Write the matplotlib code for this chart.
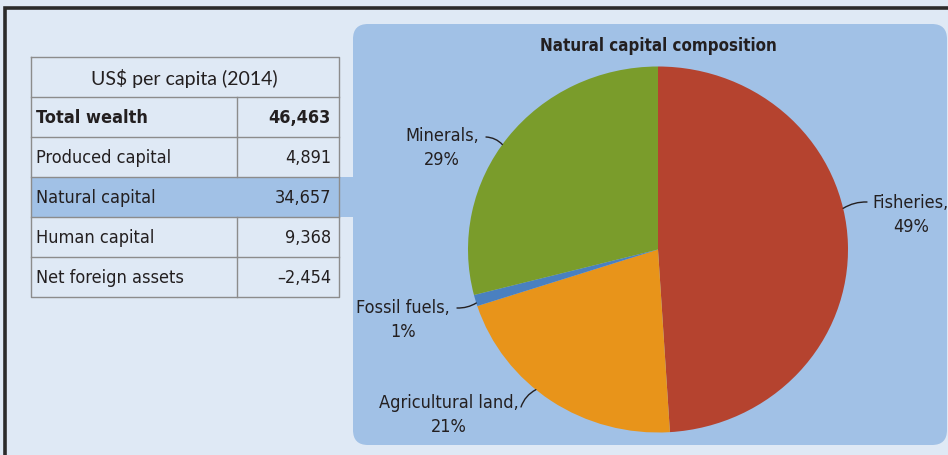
import matplotlib
matplotlib.use('Agg')
import matplotlib.pyplot as plt
from matplotlib import font_manager
from matplotlib.patches import Rectangle, FancyBboxPatch
import numpy as np

# wealth table (US$ per capita, 2014)
row_names = ['Total wealth', 'Produced capital', 'Natural capital', 'Human capital', 'Net foreign assets']
row_values = ['46,463', '4,891', '34,657', '9,368', '\u20132,454']

# natural capital composition (%)
pie_labels = ['Fisheries', 'Agricultural land', 'Fossil fuels', 'Minerals']
pie_shares = [49, 21, 1, 29]
pie_colors = ['#b5432f', '#e8941a', '#4a80c0', '#7a9c2b']

# look for a narrow face, else fall back to Roboto
fonts = font_manager.fontManager.ttflist
narrow_kw = None
for f in fonts:
    if f.name == 'Liberation Sans Narrow':
        narrow_kw = dict(family=['Liberation Sans Narrow', 'DejaVu Sans'])
        break
if narrow_kw is None:
    for f in fonts:
        if f.name == 'DejaVu Sans' and 'condensed' in str(f.stretch):
            narrow_kw = dict(family=['DejaVu Sans'], stretch='condensed')
            break
if narrow_kw is None:
    narrow_kw = dict(family=['Roboto', 'DejaVu Sans'])
fs = 13

txt = '#231f20'
bg = '#dfe9f5'
panel = '#a1c1e6'

fig = plt.figure(figsize=(9.48, 4.56), dpi=100)
fig.patch.set_facecolor(bg)

# whole-figure axes in pixel units for the frame, panel and table
ax = fig.add_axes([0, 0, 1, 1])
ax.set_xlim(0, 948)
ax.set_ylim(456, 0)
ax.axis('off')

ax.plot([5.5, 5.5, 950], [460, 9, 9], color='#2b2b2b', lw=2.6, solid_joinstyle='miter')

ax.add_patch(FancyBboxPatch((353, 25), 594, 421, boxstyle='round,pad=0,rounding_size=15',
                            fc=panel, ec='none', zorder=1))

# table
tx0, tx1, tcol = 31, 339, 237
ttop, head_h, row_h = 58, 40, 40
ax.add_patch(Rectangle((tx0, ttop + head_h + 2 * row_h), 353 - tx0, row_h, fc=panel, ec='none', zorder=2))
lc = '#8c8c8c'
nrows = len(row_names)
tbot = ttop + head_h + nrows * row_h
ax.plot([tx0, tx1, tx1, tx0, tx0], [ttop, ttop, tbot, tbot, ttop], color=lc, lw=1, zorder=3)
for i in range(nrows):
    y = ttop + head_h + i * row_h
    ax.plot([tx0, tx1], [y, y], color=lc, lw=1, zorder=3)
    if i != 2:
        ax.plot([tcol, tcol], [y, y + row_h], color=lc, lw=1, zorder=3)
ax.text((tx0 + tx1) / 2 - 1, ttop + head_h / 2, 'US$ per capita (2014)', ha='center', va='center',
        fontsize=14, family=['Lato', 'DejaVu Sans'], color=txt, zorder=4)
for i, (name, val) in enumerate(zip(row_names, row_values)):
    yc = ttop + head_h + i * row_h + row_h / 2
    w = 'bold' if i == 0 else 'normal'
    ax.text(tx0 + 5, yc, name, ha='left', va='center', fontsize=fs, **narrow_kw,
            weight=w, color=txt, zorder=4)
    ax.text(tx1 - 8, yc, val, ha='right', va='center', fontsize=fs, **narrow_kw,
            weight=w, color=txt, zorder=4)

ax.text(658, 46, 'Natural capital composition', ha='center', va='center', fontsize=12.2,
        **narrow_kw, weight='bold', color=txt, zorder=4)

# pie, slightly wider than tall
cx, cy, rx, ry = 658, 250.5, 190, 183
pax = fig.add_axes([(cx - rx) / 948, 1 - (cy + ry) / 456, 2 * rx / 948, 2 * ry / 456])
pax.pie(pie_shares, colors=pie_colors, startangle=90, counterclock=False,
        wedgeprops=dict(linewidth=0))
pax.set_aspect('auto')
pax.set_xlim(-1, 1)
pax.set_ylim(-1, 1)
pax.axis('off')

# label text position, leader start (pixels) and edge angle (deg)
label_pos = {'Fisheries': (911, 215), 'Agricultural land': (449, 415),
             'Fossil fuels': (403, 320), 'Minerals': (442, 148)}
leader_start = {'Fisheries': (867, 203), 'Agricultural land': (521, 408),
                'Fossil fuels': (457, 309), 'Minerals': (486, 138)}
leader_angle = {'Fisheries': 13, 'Agricultural land': 230, 'Fossil fuels': 197, 'Minerals': 145}
leader_rad = {'Fisheries': 0.15, 'Agricultural land': -0.2, 'Fossil fuels': 0.15, 'Minerals': -0.2}

for name, share in zip(pie_labels, pie_shares):
    lx, ly = label_pos[name]
    ax.text(lx, ly, f'{name},\n{share}%', ha='center', va='center', fontsize=fs,
            **narrow_kw, color=txt, linespacing=1.45, zorder=4)
    a = np.radians(leader_angle[name])
    pax.annotate('', xy=(np.cos(a), np.sin(a)), xycoords='data',
                 xytext=leader_start[name], textcoords=ax.transData,
                 arrowprops=dict(arrowstyle='-', color=txt, lw=1, shrinkA=0, shrinkB=0,
                                 connectionstyle=f'arc3,rad={leader_rad[name]}'))

fig.savefig('out.png', dpi=100, facecolor=bg)
